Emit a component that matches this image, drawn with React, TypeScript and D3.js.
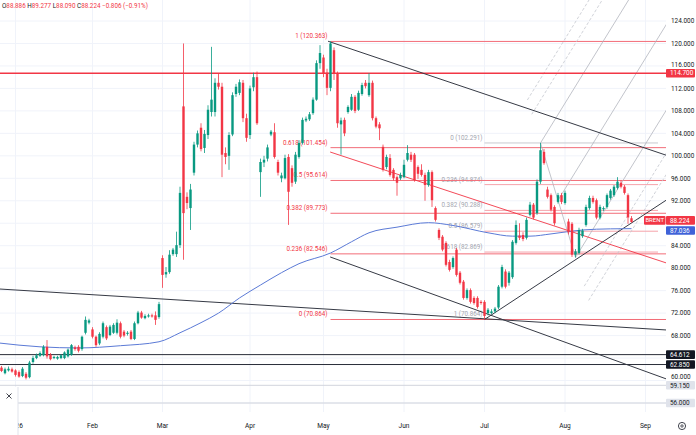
import React, { useEffect } from "react";
import * as d3 from "d3";

type Bar = [number, number, number, number]; // open, high, low, close

// daily bars, late Dec + Jan
const janBars: Bar[] = [
  [62.3, 62.6, 61.5, 61.7], [61.3, 62.3, 61.1, 62.0], [61.8, 62.5, 61.6, 62.1], [62.0, 62.3, 61.4, 61.6],
  [61.8, 62.0, 60.7, 61.0], [61.5, 61.8, 60.5, 60.7], [60.8, 62.4, 60.6, 62.1], [61.2, 61.5, 60.2, 60.5],
  [60.6, 63.5, 60.4, 63.2], [63.3, 64.4, 63.0, 64.0], [64.0, 64.8, 63.8, 64.5], [64.4, 65.2, 64.2, 64.9],
  [64.5, 66.3, 64.3, 66.0], [66.0, 67.2, 63.9, 64.3], [64.6, 64.9, 63.6, 63.8], [64.0, 64.4, 63.8, 64.2],
  [63.9, 64.4, 63.7, 64.2], [64.0, 64.7, 63.8, 64.5], [64.0, 65.2, 63.8, 65.0], [64.3, 65.7, 64.1, 65.5],
  [64.6, 66.5, 64.4, 66.3], [65.9, 66.2, 65.3, 65.6], [66.0, 66.3, 65.0, 65.3], [65.6, 68.0, 65.3, 67.8],
  [68.5, 71.4, 68.2, 70.8], [70.3, 71.0, 70.0, 70.7],
];
const febBars: Bar[] = [
  [69.1, 69.5, 67.5, 67.8], [67.8, 68.0, 66.0, 66.3], [66.6, 68.6, 66.3, 68.3], [67.8, 70.5, 67.5, 70.2],
  [69.5, 69.8, 67.2, 67.5], [68.1, 69.9, 67.9, 69.6], [68.5, 70.2, 68.3, 69.9], [68.5, 70.9, 68.2, 70.3],
  [70.2, 70.5, 67.5, 67.8], [68.7, 69.0, 67.7, 68.0], [68.3, 68.8, 68.0, 68.5], [68.7, 69.0, 67.2, 67.4],
  [67.4, 70.5, 67.2, 70.2], [70.2, 72.4, 70.0, 72.1], [72.1, 72.4, 71.0, 71.2], [71.1, 71.8, 70.9, 71.5],
  [71.4, 71.9, 71.2, 71.6], [71.6, 71.9, 71.2, 71.4], [71.6, 72.3, 69.9, 70.8], [71.3, 74.0, 71.0, 73.6],
];
const marBars: Bar[] = [
  [81.8, 82.3, 76.5, 78.8], [78.9, 80.2, 78.3, 79.3], [79.3, 83.2, 79.0, 82.4], [82.5, 83.6, 82.2, 83.3],
  [82.5, 86.5, 82.0, 84.1], [84.1, 94.5, 83.6, 93.4], [108.8, 120.0, 81.5, 89.8], [92.7, 93.5, 90.5, 91.6],
  [90.7, 95.0, 86.8, 94.0], [97.0, 102.5, 96.5, 102.0], [102.0, 104.5, 101.5, 104.0], [105.0, 105.8, 100.8, 101.2],
  [101.4, 104.6, 100.5, 103.9], [103.7, 109.0, 103.0, 108.2], [107.8, 119.4, 107.0, 110.0], [107.8, 113.8, 107.0, 113.0],
  [113.0, 114.7, 111.8, 112.3], [112.3, 113.0, 96.2, 100.2], [100.5, 101.5, 98.5, 99.8], [100.0, 104.2, 97.5, 103.7],
  [103.8, 111.3, 103.5, 110.8], [111.0, 112.8, 110.5, 112.3], [111.2, 113.6, 110.8, 113.1], [113.0, 113.5, 106.0, 106.7],
  [106.7, 107.5, 102.5, 103.2],
];
const aprBars: Bar[] = [
  [103.7, 112.5, 103.0, 112.0], [112.2, 114.8, 111.5, 114.0], [114.0, 115.0, 105.5, 105.8], [97.1, 99.5, 92.7, 98.9],
  [98.8, 100.0, 98.0, 99.3], [99.5, 102.0, 99.0, 101.5], [103.8, 104.6, 103.5, 104.3], [104.2, 105.8, 99.5, 99.8],
  [98.9, 99.3, 96.5, 97.0], [96.0, 97.0, 95.3, 96.5], [96.0, 100.2, 95.8, 99.6], [99.8, 100.3, 87.7, 93.6],
  [97.8, 98.3, 94.5, 95.2], [95.4, 100.7, 95.0, 100.2], [99.8, 102.8, 99.5, 102.3], [102.3, 106.8, 102.0, 106.4],
  [106.3, 107.0, 106.0, 106.6], [106.5, 107.8, 106.2, 107.4], [107.6, 110.4, 107.3, 110.0], [110.0, 117.0, 109.8, 116.5],
  [116.5, 119.7, 115.5, 118.3],
];
const mayBars: Bar[] = [
  [117.5, 118.0, 114.0, 114.7], [114.8, 115.5, 110.8, 112.1], [112.1, 120.36, 111.5, 120.0], [118.8, 119.3, 113.5, 114.7],
  [114.7, 115.0, 105.0, 105.8], [105.6, 106.8, 100.2, 106.3], [106.4, 106.8, 103.5, 104.0], [107.8, 109.0, 107.5, 108.7],
  [108.2, 111.0, 108.0, 110.5], [110.5, 110.8, 107.6, 108.0], [108.2, 111.6, 108.0, 111.2], [111.0, 113.0, 110.7, 112.6],
  [113.0, 113.5, 112.0, 112.4], [110.8, 114.7, 110.5, 113.0], [113.0, 113.4, 106.3, 106.7], [106.7, 107.0, 104.9, 105.2],
  [105.6, 106.0, 102.8, 104.9], [101.6, 102.0, 97.2, 97.5], [98.0, 100.2, 97.6, 99.8], [99.6, 100.3, 96.3, 96.6],
  [97.5, 97.8, 95.6, 96.0], [96.2, 96.5, 92.9, 95.2], [96.0, 97.0, 95.7, 96.6],
];
const junBars: Bar[] = [
  [96.2, 99.3, 96.0, 98.4], [99.3, 101.9, 99.0, 100.5], [100.2, 100.7, 98.9, 99.3], [100.2, 100.5, 95.4, 95.7],
  [98.0, 98.3, 95.9, 96.8], [97.5, 98.5, 96.3, 96.6], [96.6, 97.0, 92.0, 94.8], [94.8, 97.5, 94.5, 97.1],
  [97.1, 97.4, 90.9, 92.1], [90.7, 91.0, 88.3, 88.6], [86.8, 87.1, 85.0, 85.4], [85.6, 85.9, 83.0, 83.3],
  [84.5, 84.8, 80.3, 80.6], [81.1, 81.5, 79.4, 79.7], [80.2, 82.1, 79.9, 81.8], [83.3, 83.6, 78.5, 78.8],
  [79.2, 79.5, 77.1, 77.4], [77.6, 77.9, 74.4, 74.7], [74.7, 76.4, 74.4, 76.1], [76.1, 76.4, 73.7, 74.0],
  [74.7, 75.0, 73.5, 73.8], [74.7, 75.0, 72.8, 73.1], [74.0, 74.3, 73.5, 73.8],
];
const julBars: Bar[] = [
  [74.0, 74.3, 70.864, 71.5], [72.0, 72.9, 71.6, 72.6], [72.0, 72.7, 71.8, 72.3], [72.3, 73.1, 72.0, 72.8],
  [73.0, 77.0, 72.7, 76.7], [76.7, 80.6, 76.4, 80.2], [79.4, 79.8, 76.4, 76.7], [77.4, 79.5, 76.9, 79.2],
  [78.4, 85.0, 78.1, 84.7], [84.5, 88.5, 84.2, 87.7], [85.8, 88.0, 85.0, 85.4], [85.9, 86.4, 84.8, 85.2],
  [85.4, 89.0, 85.1, 88.6], [89.5, 91.8, 89.2, 91.3], [91.3, 91.6, 88.7, 89.0], [89.8, 95.8, 89.5, 95.4],
  [95.4, 102.291, 95.0, 101.0], [100.7, 101.2, 98.4, 98.7], [94.0, 94.5, 92.4, 92.7], [93.0, 93.3, 90.1, 90.4],
  [90.9, 91.2, 87.6, 88.0], [91.8, 93.4, 91.5, 93.0], [93.0, 93.4, 91.4, 91.8],
];
const augBars: Bar[] = [
  [91.6, 93.8, 91.3, 93.4], [88.3, 88.8, 86.0, 86.4], [87.9, 88.2, 82.0, 82.4], [82.4, 83.4, 81.9, 83.0],
  [82.7, 87.2, 82.4, 86.8], [85.7, 87.0, 85.4, 86.7], [87.7, 91.3, 87.4, 90.9], [90.7, 92.9, 90.4, 92.5],
  [92.5, 92.9, 91.5, 91.8], [92.1, 92.4, 88.7, 89.0], [89.0, 91.3, 88.7, 90.9], [90.5, 91.0, 90.2, 90.7],
  [90.9, 93.3, 90.6, 93.0], [92.5, 94.1, 92.2, 93.8], [93.0, 94.8, 92.7, 94.5], [94.3, 96.2, 94.0, 95.4],
  [95.2, 95.6, 94.2, 94.5], [94.5, 94.8, 93.1, 93.4], [93.0, 93.3, 87.9, 89.03], [88.886, 89.277, 88.09, 88.224],
];

const candles: Bar[] = [
  ...janBars, ...febBars, ...marBars, ...aprBars, ...mayBars, ...junBars, ...julBars, ...augBars,
];

const monthIdx = [4, 26, 46, 71, 92, 115, 138, 161, 184];
const monthLabels = ["2026", "Feb", "Mar", "Apr", "May", "Jun", "Jul", "Aug", "Sep"];

const priceTicks = d3.range(56, 125, 4);

// moving average (bar index, value)
const maIdx = [-1, 11, 22, 34, 45, 51, 57, 62, 68, 74, 80, 85, 94, 100, 105, 113, 122, 129, 139, 146, 151, 157, 166, 174, 180];
const maVal = [66.7, 66.0, 65.8, 66.2, 66.9, 68.5, 70.3, 72.0, 74.7, 77.0, 79.2, 80.8, 82.7, 84.7, 86.3, 87.3, 88.1, 87.6, 86.3, 85.7, 85.7, 86.1, 86.8, 87.0, 87.036];

// fib retracement May high -> July low
const fibMainStart = 94;
const fibMainRatios = ["1", "0.618", "0.5", "0.382", "0.236", "0"];
const fibMainValues = [120.363, 101.454, 95.614, 89.773, 82.546, 70.864];

// fib retracement July low -> July high
const fibJulyStart = 138;
const fibJulyRatios = ["0", "0.236", "0.382", "0.5", "0.618", "1"];
const fibJulyValues = [102.291, 94.874, 90.288, 86.579, 82.869, 70.864];

// trend lines: [index, price] -> [index, price]
const blackLines: [number, number, number, number][] = [
  [93.3, 120.4, 190, 100.09],
  [-0.5, 76.29, 190, 69.0],
  [93.9, 82.0, 190, 60.27],
  [138, 70.864, 190, 92.14],
];
const redTrend: [number, number, number, number] = [93.9, 100.68, 190, 80.92];

// pitchfork points: handle, fork top, fork bottom
const forkHandle: [number, number] = [138, 70.864];
const forkTop: [number, number] = [154, 102.291];
const forkBottom: [number, number] = [164, 81.9];
const forkSolid = [0, 0.5, 1];
const forkDashed = [-0.375, -0.25, 1.25, 1.375];

const hLevels = { red: 114.7, black1: 64.612, black2: 62.85, gray1: 59.15, gray2: 56.0 };
const lastClose = 88.224;
const maLast = 87.036;

const UP = "#089981";
const DOWN = "#f23645";
const FONT = "Roboto, 'Liberation Sans', sans-serif";

export default function App() {
  useEffect(() => {
    document.body.style.margin = "0";
  }, []);

  const W = 696;
  const H = 435;
  const plotR = 666;
  const plotB = 412;

  const x = d3.scaleLinear().domain([0, 180]).range([1.5, 631.5]);
  const y = d3.scaleLinear().domain([56, 124]).range([403, 21]);
  const bw = 2.4;
  const boxH = 8.6;

  const ma = d3
    .line<number>()
    .x((d, i) => x(maIdx[i]))
    .y((d) => y(d))
    .curve(d3.curveMonotoneX)(maVal);

  // pitchfork geometry
  const mid: [number, number] = [(forkTop[0] + forkBottom[0]) / 2, (forkTop[1] + forkBottom[1]) / 2];
  const slope = (mid[1] - forkHandle[1]) / (mid[0] - forkHandle[0]);
  const forkLine = (t: number) => {
    const i0 = forkTop[0] + t * (forkBottom[0] - forkTop[0]);
    const p0 = forkTop[1] + t * (forkBottom[1] - forkTop[1]);
    const i1 = 196;
    return { x1: x(i0), y1: y(p0), x2: x(i1), y2: y(p0 + slope * (i1 - i0)) };
  };

  const fmt = (v: number) => v.toFixed(3);

  // axis label boxes
  const boxes = [
    { v: hLevels.red, cy: y(hLevels.red), bg: DOWN, fg: "#fff" },
    { v: hLevels.black1, cy: y(hLevels.black1), bg: "#131722", fg: "#fff" },
    { v: hLevels.black2, cy: y(hLevels.black2), bg: "#131722", fg: "#fff" },
    { v: hLevels.gray1, cy: y(hLevels.gray1), bg: "#e0e3eb", fg: "#131722" },
    { v: hLevels.gray2, cy: y(hLevels.gray2), bg: "#e0e3eb", fg: "#131722" },
    { v: maLast, cy: y(maLast) + 1.8, bg: "#3f62d8", fg: "#fff" },
    { v: lastClose, cy: y(lastClose) - 1.6, bg: DOWN, fg: "#fff" },
  ];

  // tick labels that sit under a box are hidden, near ones are nudged away
  const tickPos = priceTicks
    .map((t) => {
      let ty = y(t);
      for (const b of boxes) {
        const d = ty - b.cy;
        if (Math.abs(d) < 4.5) return null;
        if (Math.abs(d) < boxH + 0.3) ty = b.cy + Math.sign(d) * (boxH + 0.3);
      }
      return { t, ty };
    })
    .filter((d): d is { t: number; ty: number } => d !== null);

  return (
    <div style={{ position: "absolute", left: 0, top: 0 }}>
      <svg width={W} height={H} style={{ display: "block", background: "#fff" }} fontFamily={FONT}>
        <defs>
          <clipPath id="plot">
            <rect x={0} y={0} width={plotR} height={plotB} />
          </clipPath>
        </defs>

        {/* grid */}
        <g stroke="#f0f3fa" strokeWidth={1}>
          {priceTicks.map((t) => (
            <line key={"h" + t} x1={0} x2={plotR} y1={y(t)} y2={y(t)} />
          ))}
          {monthIdx.map((m) => (
            <line key={"v" + m} x1={x(m)} x2={x(m)} y1={0} y2={plotB} />
          ))}
        </g>

        <g clipPath="url(#plot)">
          {/* horizontal levels */}
          <line x1={0} x2={plotR} y1={y(hLevels.gray1)} y2={y(hLevels.gray1)} stroke="#d1d4dc" />
          <line x1={0} x2={plotR} y1={y(hLevels.gray2)} y2={y(hLevels.gray2)} stroke="#d1d4dc" />
          <line x1={0} x2={plotR} y1={y(hLevels.black1)} y2={y(hLevels.black1)} stroke="#2a2e39" />
          <line x1={0} x2={plotR} y1={y(hLevels.black2)} y2={y(hLevels.black2)} stroke="#2a2e39" />

          {/* fib July */}
          {fibJulyValues.map((v, i) => (
            <g key={"fj" + i}>
              <line
                x1={x(fibJulyStart)}
                x2={658}
                y1={y(v)}
                y2={y(v)}
                stroke={i === 0 ? "#c8cad0" : "#f5a3ab"}
                strokeWidth={1}
              />
              <text x={x(fibJulyStart) - 2} y={y(v) - 3} textAnchor="end" fontSize={6.3} fill="#a3a6af">
                {`${fibJulyRatios[i]} (${fmt(v)})`}
              </text>
            </g>
          ))}

          {/* fib main */}
          {fibMainValues.map((v, i) => (
            <g key={"fm" + i}>
              <line x1={x(fibMainStart)} x2={plotR} y1={y(v)} y2={y(v)} stroke="#f26d78" strokeWidth={1} />
              <text x={x(fibMainStart) - 3} y={y(v) - 3} textAnchor="end" fontSize={6.3} fill={DOWN}>
                {`${fibMainRatios[i]} (${fmt(v)})`}
              </text>
            </g>
          ))}

          {/* pitchfork */}
          <g stroke="#b2b5be" strokeWidth={0.8} fill="none">
            <line x1={x(forkTop[0])} y1={y(forkTop[1])} x2={x(forkBottom[0])} y2={y(forkBottom[1])} />
            {forkSolid.map((t) => {
              const l = forkLine(t);
              return <line key={"fs" + t} {...l} />;
            })}
          </g>
          <g stroke="#c4c7ce" strokeWidth={0.8} strokeDasharray="3,2" fill="none">
            {forkDashed.map((t) => {
              const l = forkLine(t);
              return <line key={"fd" + t} {...l} />;
            })}
          </g>

          {/* red horizontal */}
          <line x1={0} x2={plotR} y1={y(hLevels.red)} y2={y(hLevels.red)} stroke={DOWN} strokeWidth={1.5} />

          {/* trend lines */}
          <line
            x1={x(redTrend[0])}
            y1={y(redTrend[1])}
            x2={x(redTrend[2])}
            y2={y(redTrend[3])}
            stroke={DOWN}
            strokeWidth={0.9}
          />
          {blackLines.map((l, i) => (
            <line key={"bl" + i} x1={x(l[0])} y1={y(l[1])} x2={x(l[2])} y2={y(l[3])} stroke="#363a45" strokeWidth={1} />
          ))}

          {/* moving average */}
          <path d={ma || ""} fill="none" stroke="#5b7ad6" strokeWidth={1} />

          {/* candles */}
          {candles.map((c, i) => {
            const [o, h, l, cl] = c;
            const col = cl >= o ? UP : DOWN;
            const top = y(Math.max(o, cl));
            const bot = y(Math.min(o, cl));
            return (
              <g key={"c" + i}>
                <line x1={x(i)} x2={x(i)} y1={y(h)} y2={y(l)} stroke={col} strokeWidth={0.8} />
                <rect x={x(i) - bw / 2} y={top} width={bw} height={Math.max(bot - top, 0.8)} fill={col} />
              </g>
            );
          })}
        </g>

        {/* price axis */}
        <g fontSize={6.4} fill="#131722">
          {tickPos.map((d) => (
            <text key={"t" + d.t} x={671} y={d.ty} dy="0.35em">
              {fmt(d.t)}
            </text>
          ))}
        </g>
        {boxes.map((b, i) => (
          <g key={"b" + i}>
            <rect x={666} y={b.cy - boxH / 2} width={29} height={boxH} fill={b.bg} rx={1} />
            <text x={670} y={b.cy} dy="0.35em" fontSize={6.4} fill={b.fg}>
              {fmt(b.v)}
            </text>
          </g>
        ))}
        <rect x={644} y={y(lastClose) - 1.6 - boxH / 2} width={21.5} height={boxH} fill={DOWN} rx={1} />
        <text x={654.7} y={y(lastClose) - 1.6} dy="0.35em" textAnchor="middle" fontSize={6} fill="#fff">
          BRENT
        </text>

        {/* time axis */}
        <g fontSize={6.6} fill="#131722" textAnchor="middle">
          {monthIdx.map((m, i) => (
            <text key={"m" + i} x={x(m)} y={428}>
              {monthLabels[i]}
            </text>
          ))}
        </g>

        {/* pane close button */}
        <rect x={0} y={387} width={18} height={48} fill="#fff" />
        <line x1={18} x2={18} y1={387} y2={435} stroke="#e0e3eb" />
        <g stroke="#131722" strokeWidth={0.8}>
          <line x1={6.5} y1={393.5} x2={11.5} y2={398.5} />
          <line x1={11.5} y1={393.5} x2={6.5} y2={398.5} />
        </g>

        {/* settings icon */}
        <circle cx={682} cy={426} r={3.6} fill="none" stroke="#131722" strokeWidth={0.8} />
        <circle cx={682} cy={426} r={1.2} fill="none" stroke="#131722" strokeWidth={0.7} />

        {/* legend */}
        <text x={2} y={8} fontSize={6.3}>
          <tspan fill="#131722">O</tspan>
          <tspan fill={DOWN}>{fmt(candles[180][0])}</tspan>
          <tspan fill="#131722"> H</tspan>
          <tspan fill={DOWN}>{fmt(candles[180][1])}</tspan>
          <tspan fill="#131722"> L</tspan>
          <tspan fill={DOWN}>{fmt(candles[180][2])}</tspan>
          <tspan fill="#131722"> C</tspan>
          <tspan fill={DOWN}>{fmt(candles[180][3])}</tspan>
          <tspan fill={DOWN}> −0.806 (−0.91%)</tspan>
        </text>
      </svg>
    </div>
  );
}
